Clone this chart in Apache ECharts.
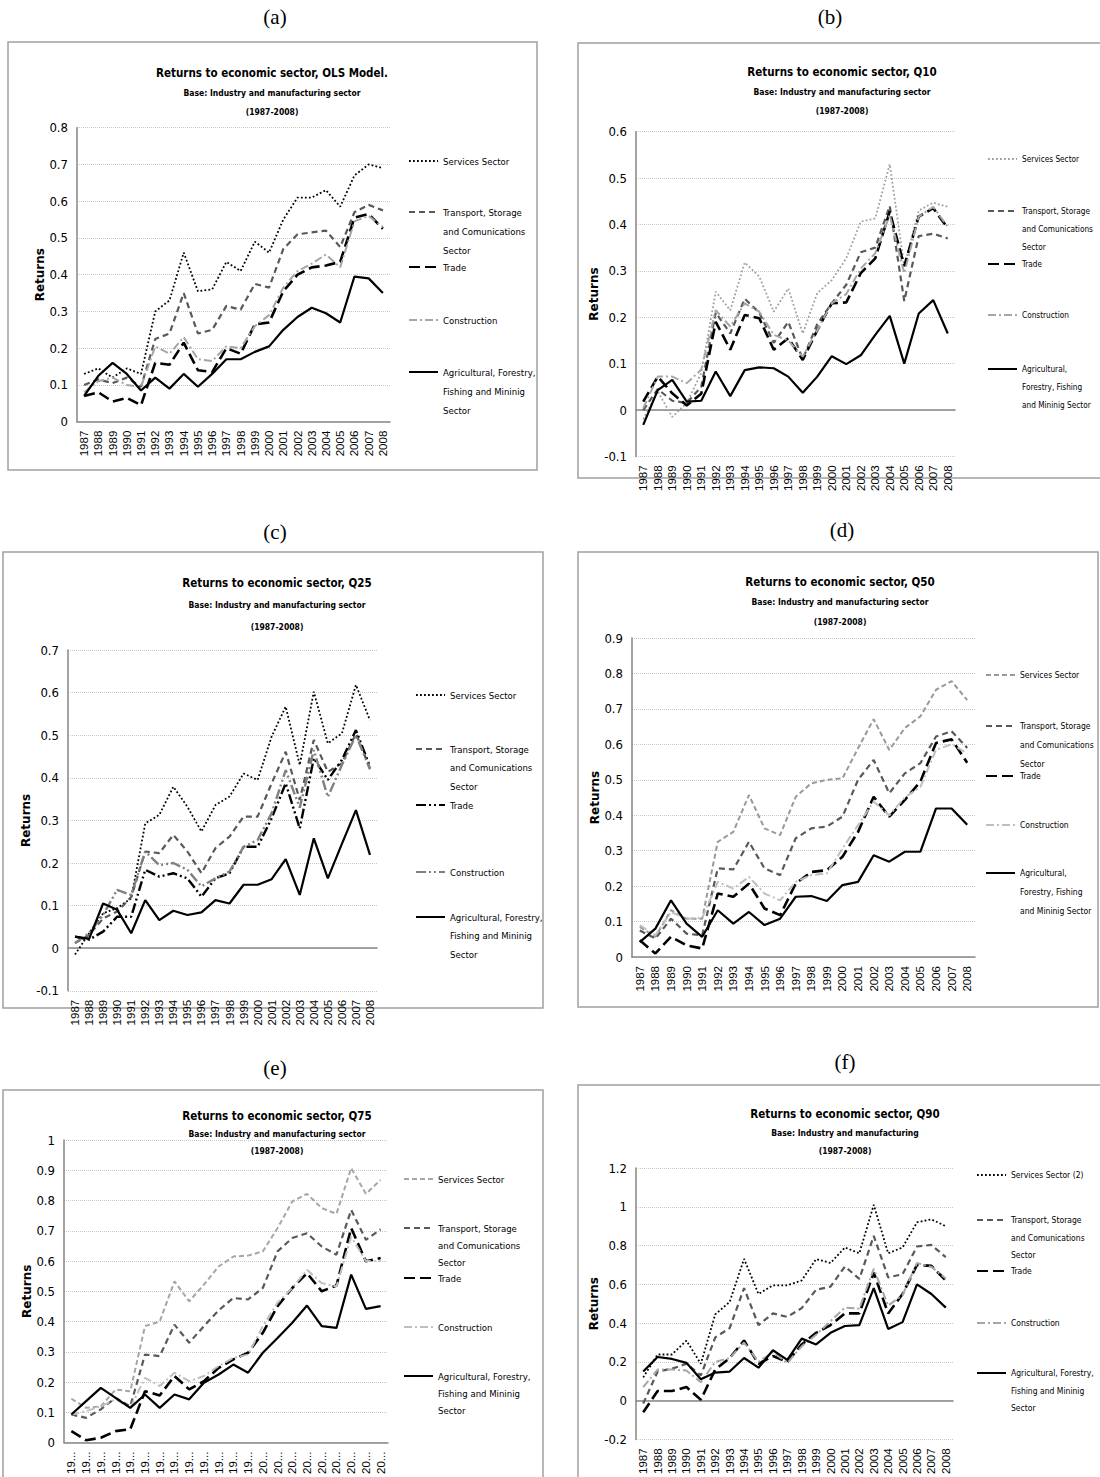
<!DOCTYPE html>
<html>
<head>
<meta charset="utf-8">
<script src="https://cdn.jsdelivr.net/npm/echarts@6/dist/echarts.min.js"></script>
<style>
html, body { margin: 0; padding: 0; background: #fff; }
#chart { width: 1100px; height: 1477px; }
</style>
</head>
<body>
<div id="chart"></div>
<script>
// categories
const years = ['1987','1988','1989','1990','1991','1992','1993','1994','1995','1996','1997',
  '1998','1999','2000','2001','2002','2003','2004','2005','2006','2007','2008'];

// (a) OLS
const olsServices = [0.13,0.145,0.12,0.145,0.13,0.30,0.33,0.46,0.355,0.36,0.435,0.41,0.49,0.46,0.55,0.61,0.61,0.63,0.585,0.67,0.70,0.69];
const olsTransport = [0.10,0.115,0.105,0.12,0.095,0.225,0.24,0.35,0.24,0.25,0.315,0.305,0.375,0.365,0.47,0.51,0.515,0.52,0.475,0.57,0.59,0.575];
const olsTrade = [0.07,0.08,0.055,0.065,0.045,0.16,0.155,0.215,0.14,0.135,0.20,0.185,0.265,0.27,0.355,0.40,0.42,0.425,0.435,0.555,0.565,0.525];
const olsConstruction = [0.08,0.11,0.12,0.10,0.095,0.205,0.185,0.23,0.17,0.165,0.205,0.20,0.26,0.29,0.365,0.41,0.43,0.455,0.42,0.545,0.56,0.53];
const olsAgri = [0.07,0.125,0.16,0.13,0.085,0.12,0.09,0.13,0.095,0.13,0.17,0.17,0.19,0.205,0.25,0.285,0.31,0.295,0.27,0.395,0.39,0.35];

// (b) Q10
const q10Services = [-0.02,0.04,-0.015,0.015,0.08,0.255,0.215,0.318,0.288,0.212,0.262,0.165,0.252,0.28,0.327,0.406,0.413,0.53,0.31,0.43,0.447,0.438];
const q10Transport = [0.0,0.045,0.02,0.015,0.05,0.21,0.165,0.24,0.21,0.145,0.19,0.11,0.185,0.23,0.27,0.34,0.35,0.44,0.235,0.375,0.38,0.37];
const q10Trade = [0.018,0.072,0.036,0.01,0.035,0.19,0.13,0.205,0.198,0.13,0.155,0.108,0.172,0.23,0.232,0.295,0.327,0.428,0.31,0.417,0.435,0.392];
const q10Construction = [0.004,0.072,0.072,0.058,0.087,0.215,0.18,0.23,0.212,0.162,0.15,0.115,0.172,0.23,0.25,0.305,0.338,0.42,0.295,0.417,0.438,0.395];
const q10Agri = [-0.032,0.043,0.065,0.018,0.02,0.083,0.03,0.086,0.092,0.09,0.072,0.037,0.072,0.116,0.099,0.118,0.162,0.203,0.10,0.208,0.237,0.165];

// (c) Q25
const q25Services = [-0.015,0.035,0.082,0.094,0.117,0.293,0.313,0.379,0.332,0.274,0.336,0.356,0.41,0.395,0.497,0.567,0.43,0.602,0.481,0.504,0.618,0.535];
const q25Transport = [0.012,0.031,0.07,0.086,0.12,0.227,0.223,0.266,0.227,0.176,0.235,0.262,0.309,0.309,0.387,0.461,0.348,0.489,0.414,0.434,0.504,0.422];
const q25Trade = [0.027,0.02,0.039,0.074,0.074,0.184,0.168,0.176,0.164,0.121,0.164,0.176,0.238,0.238,0.305,0.387,0.281,0.446,0.395,0.442,0.512,0.426];
const q25Construction = [0.012,0.035,0.078,0.137,0.125,0.227,0.195,0.2,0.184,0.145,0.164,0.18,0.238,0.254,0.317,0.418,0.33,0.465,0.355,0.43,0.50,0.42];
const q25Agri = [0.027,0.022,0.105,0.09,0.035,0.113,0.066,0.088,0.078,0.084,0.113,0.105,0.149,0.149,0.162,0.209,0.125,0.258,0.164,0.245,0.324,0.219];

// (d) Q50
const q50Services = [0.085,0.057,0.132,0.108,0.108,0.325,0.353,0.457,0.363,0.344,0.452,0.49,0.5,0.504,0.589,0.671,0.584,0.646,0.679,0.754,0.778,0.725];
const q50Transport = [0.075,0.052,0.108,0.066,0.061,0.25,0.247,0.325,0.25,0.231,0.335,0.363,0.368,0.396,0.5,0.556,0.462,0.518,0.547,0.622,0.637,0.59];
const q50Trade = [0.047,0.01,0.057,0.033,0.024,0.179,0.17,0.207,0.137,0.118,0.207,0.24,0.245,0.283,0.353,0.452,0.396,0.443,0.495,0.604,0.614,0.548];
const q50Construction = [0.09,0.061,0.127,0.108,0.11,0.212,0.193,0.226,0.179,0.16,0.212,0.231,0.236,0.306,0.372,0.438,0.4,0.45,0.48,0.585,0.60,0.575];
const q50Agri = [0.042,0.08,0.16,0.094,0.057,0.132,0.094,0.127,0.09,0.108,0.17,0.172,0.158,0.203,0.212,0.287,0.269,0.297,0.297,0.419,0.419,0.373];

// (e) Q75
const q75Services = [0.145,0.115,0.12,0.175,0.17,0.385,0.40,0.533,0.467,0.522,0.582,0.615,0.618,0.632,0.709,0.797,0.822,0.775,0.756,0.907,0.822,0.868];
const q75Transport = [0.093,0.082,0.11,0.148,0.12,0.291,0.286,0.39,0.33,0.385,0.437,0.478,0.473,0.511,0.632,0.676,0.692,0.648,0.621,0.769,0.67,0.705];
const q75Trade = [0.038,0.008,0.016,0.038,0.044,0.17,0.156,0.22,0.176,0.203,0.247,0.275,0.297,0.363,0.451,0.511,0.56,0.5,0.519,0.709,0.599,0.61];
const q75Construction = [0.093,0.104,0.12,0.143,0.115,0.214,0.187,0.231,0.203,0.22,0.253,0.28,0.291,0.385,0.462,0.511,0.571,0.527,0.516,0.68,0.6,0.6];
const q75Agri = [0.093,0.137,0.181,0.148,0.115,0.159,0.115,0.159,0.143,0.198,0.225,0.258,0.231,0.297,0.346,0.396,0.453,0.385,0.379,0.555,0.442,0.451];

// (f) Q90
const q90Services = [0.12,0.238,0.238,0.31,0.19,0.445,0.509,0.731,0.55,0.595,0.595,0.62,0.73,0.71,0.79,0.76,1.01,0.76,0.79,0.92,0.935,0.9];
const q90Transport = [-0.015,0.15,0.165,0.19,0.13,0.326,0.374,0.58,0.39,0.45,0.432,0.477,0.572,0.588,0.692,0.628,0.85,0.636,0.652,0.795,0.803,0.74];
const q90Trade = [-0.06,0.05,0.05,0.07,0.005,0.16,0.22,0.31,0.19,0.23,0.2,0.29,0.35,0.39,0.45,0.45,0.66,0.45,0.55,0.70,0.695,0.62];
const q90Construction = [0.07,0.16,0.16,0.155,0.095,0.2,0.22,0.3,0.2,0.25,0.195,0.28,0.34,0.41,0.48,0.475,0.68,0.49,0.545,0.71,0.69,0.63];
const q90Agri = [0.15,0.225,0.215,0.195,0.11,0.145,0.15,0.22,0.17,0.26,0.21,0.32,0.29,0.35,0.385,0.39,0.58,0.37,0.405,0.6,0.55,0.48];

// legend texts
const legServices = 'Services Sector';
const legServices2 = 'Services Sector (2)';
const legTransport = 'Transport, Storage\nand Comunications\nSector';
const legTrade = 'Trade';
const legConstruction = 'Construction';
const legAgri = 'Agricultural, Forestry,\nFishing and Mininig\nSector';
const legAgri2 = 'Agricultural,\nForestry, Fishing\nand Mininig Sector';

const narrow = "'DejaVu Sans Condensed','Liberation Sans Narrow',sans-serif";

// line styles
const dotted = c => ({ color: c, width: 1.8, type: [1.8, 2.2] });
const shortDash = c => ({ color: c, width: 2, type: [5, 3] });
const dashed = c => ({ color: c, width: 2.2, type: [6, 4] });
const longDash = c => ({ color: c, width: 2.6, type: [11, 5] });
const dashDot = c => ({ color: c, width: 2, type: [8, 3, 2, 3] });
const dashDotDot = c => ({ color: c, width: 2.4, type: [10, 3, 2, 3, 2, 3] });
const solid = c => ({ color: c, width: 2.2, type: 'solid' });

const panels = [
  { id: 'a', label: '(a)', lx: 275, ly: 17, box: [8, 42, 529, 428],
    title: 'Returns to economic sector, OLS Model.', sub: 'Base: Industry and manufacturing sector\n(1987-2008)',
    tx: 272, ty: 65, subLH: 19, gap: 2,
    grid: [77, 127.7, 390, 421.7], min: 0, max: 0.8, step: 0.1, nameGap: 27,
    data: [olsServices, olsTransport, olsTrade, olsConstruction, olsAgri],
    styles: [dotted('#000'), dashed('#595959'), longDash('#000'), dashDot('#a6a6a6'), solid('#000')],
    legs: [legServices, legTransport, legTrade, legConstruction, legAgri],
    legX: 408, legY: [161, 212, 267, 320, 372], legLH: 19, legFS: 9.5 },
  { id: 'b', label: '(b)', lx: 830, ly: 17, box: [578, 43, 540, 435],
    title: 'Returns to economic sector, Q10', sub: 'Base: Industry and manufacturing sector\n(1987-2008)',
    tx: 842, ty: 64, subLH: 19, gap: 2,
    grid: [636, 131.7, 955, 456.4], min: -0.1, max: 0.6, step: 0.1, nameGap: 29,
    data: [q10Services, q10Transport, q10Trade, q10Construction, q10Agri],
    styles: [dotted('#a0a0a0'), dashed('#595959'), longDash('#000'), dashDot('#a6a6a6'), solid('#000')],
    legs: [legServices, legTransport, legTrade, legConstruction, legAgri2],
    legX: 987, legY: [159, 211, 264, 315, 369], legLH: 18, legFS: 8.2 },
  { id: 'c', label: '(c)', lx: 275, ly: 532, box: [3, 552, 540, 456],
    title: 'Returns to economic sector, Q25', sub: 'Base: Industry and manufacturing sector\n(1987-2008)',
    tx: 277, ty: 575, subLH: 22, gap: 3,
    grid: [68, 650, 377, 990.8], min: -0.1, max: 0.7, step: 0.1, nameGap: 28,
    data: [q25Services, q25Transport, q25Trade, q25Construction, q25Agri],
    styles: [dotted('#000'), dashed('#595959'), dashDotDot('#000'), dashDotDot('#808080'), solid('#000')],
    legs: [legServices, legTransport, legTrade, legConstruction, legAgri],
    legX: 415, legY: [695, 749, 805, 872, 917], legLH: 18.5, legFS: 9.5 },
  { id: 'd', label: '(d)', lx: 842, ly: 530, box: [578, 552, 520, 455],
    title: 'Returns to economic sector, Q50', sub: 'Base: Industry and manufacturing sector\n(1987-2008)',
    tx: 840, ty: 574, subLH: 20, gap: 2,
    grid: [632, 638, 975, 957], min: 0, max: 0.9, step: 0.1, nameGap: 27,
    data: [q50Services, q50Transport, q50Trade, q50Construction, q50Agri],
    styles: [shortDash('#999999'), dashed('#595959'), longDash('#000'), dashDot('#bfbfbf'), solid('#000')],
    legs: [legServices, legTransport, legTrade, legConstruction, legAgri2],
    legX: 985, legY: [675, 726, 776, 825, 873], legLH: 19, legFS: 8.5 },
  { id: 'e', label: '(e)', lx: 275, ly: 1068, box: [3, 1090, 540, 420],
    title: 'Returns to economic sector, Q75', sub: 'Base: Industry and manufacturing sector\n(1987-2008)',
    tx: 277, ty: 1108, subLH: 17, gap: 1.5,
    grid: [64, 1140, 388, 1443], min: 0, max: 1, step: 0.1, nameGap: 26, short: true,
    data: [q75Services, q75Transport, q75Trade, q75Construction, q75Agri],
    styles: [shortDash('#a6a6a6'), dashed('#595959'), longDash('#000'), dashDot('#bfbfbf'), solid('#000')],
    legs: [legServices, legTransport, legTrade, legConstruction, legAgri],
    legX: 403, legY: [1179, 1228, 1278, 1327, 1376], legLH: 17, legFS: 9.5 },
  { id: 'f', label: '(f)', lx: 845, ly: 1062, box: [578, 1085, 540, 420],
    title: 'Returns to economic sector, Q90', sub: 'Base: Industry and manufacturing\n(1987-2008)',
    tx: 845, ty: 1106, subLH: 18, gap: 1.5,
    grid: [636, 1168, 953, 1462], min: -0.2, max: 1.2, step: 0.2, nameGap: 29,
    data: [q90Services, q90Transport, q90Trade, q90Construction, q90Agri],
    styles: [dotted('#000'), dashed('#595959'), longDash('#000'), dashDot('#a6a6a6'), solid('#000')],
    legs: [legServices2, legTransport, legTrade, legConstruction, legAgri],
    legX: 976, legY: [1175, 1220, 1271, 1323, 1373], legLH: 17.5, legFS: 8.5 }
];

const keys = ['Services', 'Transport', 'Trade', 'Construction', 'Agri'];

const grids = [], xAxes = [], yAxes = [], series = [], titles = [], legends = [], graphics = [];

panels.forEach((p, i) => {
  graphics.push({ type: 'rect', shape: { x: p.box[0], y: p.box[1], width: p.box[2], height: p.box[3] },
    style: { fill: 'none', stroke: '#a0a0a0', lineWidth: 1.5 }, silent: true });
  graphics.push({ type: 'text', x: p.lx, y: p.ly, silent: true,
    style: { text: p.label, fontFamily: "'Liberation Serif',serif", fontSize: 21, fill: '#000', align: 'center', verticalAlign: 'middle' } });

  titles.push({ text: p.title, subtext: p.sub, left: p.tx, top: p.ty, textAlign: 'center', padding: 0, itemGap: p.gap,
    textStyle: { fontFamily: narrow, fontWeight: 'bold', fontSize: 11.5, color: '#000', lineHeight: 16 },
    subtextStyle: { fontFamily: narrow, fontWeight: 'bold', fontSize: 8.5, color: '#000', lineHeight: p.subLH } });

  grids.push({ left: p.grid[0], top: p.grid[1], width: p.grid[2] - p.grid[0], height: p.grid[3] - p.grid[1] });

  xAxes.push({ type: 'category', gridIndex: i, data: years, boundaryGap: true,
    axisLine: { onZero: true, lineStyle: { color: '#868686', width: 1.5 } },
    axisTick: { show: false },
    axisLabel: { interval: 0, rotate: 90, margin: 9, fontFamily: "'Liberation Sans',sans-serif", fontSize: 11.5, color: '#000',
      formatter: p.short ? (v => v.slice(0, 2) + '...') : (v => v) } });

  yAxes.push({ type: 'value', gridIndex: i, min: p.min, max: p.max, interval: p.step,
    axisLine: { show: true, lineStyle: { color: '#868686', width: 1.5 } },
    axisTick: { show: false },
    splitLine: { show: true, lineStyle: { type: 'dotted', color: '#c8c8c8', width: 1 } },
    axisLabel: { margin: 9, fontFamily: narrow, fontSize: 13, color: '#000' },
    name: 'Returns', nameLocation: 'middle', nameGap: p.nameGap,
    nameTextStyle: { fontFamily: "'DejaVu Sans',sans-serif", fontWeight: 'bold', fontSize: 12, color: '#000' } });

  p.data.forEach((arr, k) => {
    const name = keys[k] + '#' + p.id;
    series.push({ type: 'line', name, xAxisIndex: i, yAxisIndex: i, data: arr,
      symbol: 'none', smooth: false, silent: true, lineStyle: p.styles[k], emphasis: { disabled: true } });

    // one legend per item so each sits where the reference puts it;
    // blank lines in front keep the icon level with the first text line
    const lines = p.legs[k].split('\n');
    const n = lines.length;
    const text = '\n'.repeat(n - 1) + lines.join('\n');
    const totalH = (2 * n - 1) * p.legLH;
    legends.push({ data: [name], orient: 'vertical', left: p.legX, top: p.legY[k] - totalH / 2,
      padding: 0, itemWidth: 29, itemHeight: 14, selectedMode: false,
      itemStyle: { opacity: 0 },
      formatter: () => text,
      textStyle: { fontFamily: narrow, fontSize: p.legFS, color: '#000', lineHeight: p.legLH } });
  });
});

const chart = echarts.init(document.getElementById('chart'), null, { renderer: 'svg' });
chart.setOption({
  backgroundColor: '#fff',
  animation: false,
  title: titles,
  grid: grids,
  xAxis: xAxes,
  yAxis: yAxes,
  legend: legends,
  graphic: graphics,
  series: series
});
</script>
</body>
</html>
